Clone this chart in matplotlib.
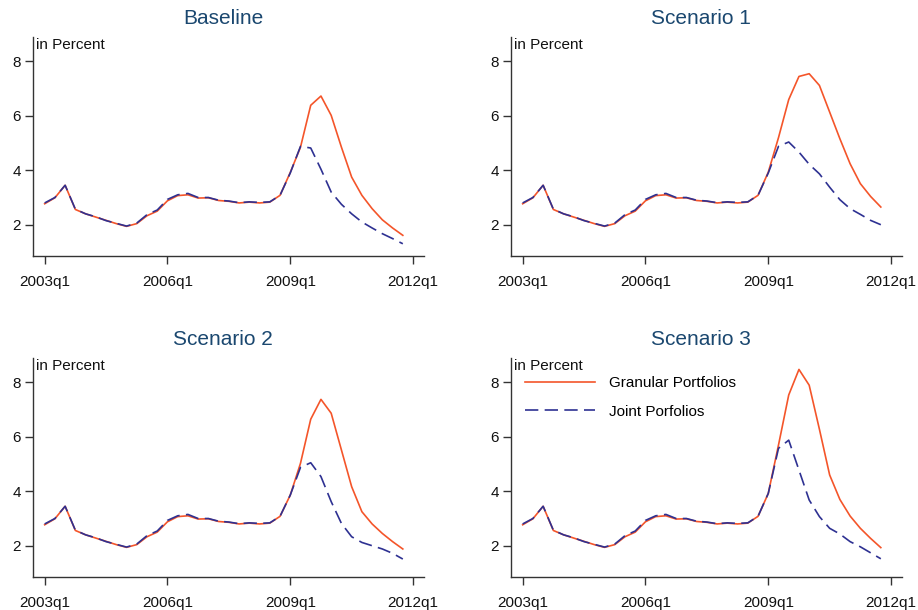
import matplotlib
matplotlib.use("Agg")
import matplotlib.pyplot as plt

plt.rcParams["font.family"] = ["Liberation Sans", "DejaVu Sans"]

# quarterly observations, 2003q1 .. 2011q4
years = list(range(2003, 2012))
quarters = [f"{y}q{q}" for y in years for q in range(1, 5)]
tick_labels = ["2003q1", "2006q1", "2009q1", "2012q1"]
tick_pos = [0, 12, 24, 36]

# shared history (2003q1 .. 2008q4)
hist_granular = [2.77, 2.99, 3.45, 2.56, 2.40, 2.28, 2.16, 2.04, 1.94, 2.04, 2.33, 2.50,
                 2.88, 3.07, 3.10, 2.98, 2.99, 2.89, 2.86, 2.80, 2.83, 2.80, 2.83, 3.08]
hist_joint = [2.80, 3.00, 3.45, 2.57, 2.40, 2.29, 2.15, 2.05, 1.95, 2.06, 2.37, 2.54,
              2.93, 3.10, 3.15, 3.00, 3.00, 2.90, 2.87, 2.81, 2.84, 2.82, 2.84, 3.08]

# 2009q1 .. 2011q4 per scenario
baseline_granular = [3.92, 4.85, 6.39, 6.73, 6.02, 4.85, 3.75, 3.08, 2.59, 2.18, 1.88, 1.61]
baseline_joint = [3.90, 4.88, 4.82, 4.04, 3.20, 2.75, 2.40, 2.10, 1.88, 1.67, 1.49, 1.30]

scen1_granular = [3.93, 5.20, 6.60, 7.45, 7.55, 7.12, 6.14, 5.16, 4.24, 3.51, 3.04, 2.65]
scen1_joint = [3.90, 4.88, 5.04, 4.67, 4.22, 3.87, 3.38, 2.92, 2.59, 2.38, 2.16, 2.00]

scen2_granular = [3.86, 5.03, 6.65, 7.38, 6.87, 5.52, 4.17, 3.25, 2.80, 2.45, 2.15, 1.88]
scen2_joint = [3.86, 4.88, 5.05, 4.54, 3.62, 2.82, 2.33, 2.12, 2.00, 1.88, 1.72, 1.51]

scen3_granular = [3.92, 5.70, 7.54, 8.48, 7.90, 6.28, 4.60, 3.70, 3.09, 2.64, 2.27, 1.93]
scen3_joint = [3.92, 5.58, 5.88, 4.78, 3.68, 3.07, 2.64, 2.43, 2.15, 1.96, 1.74, 1.52]

panels = [
    ("Baseline", baseline_granular, baseline_joint),
    ("Scenario 1", scen1_granular, scen1_joint),
    ("Scenario 2", scen2_granular, scen2_joint),
    ("Scenario 3", scen3_granular, scen3_joint),
]

red = "#f4552a"
blue = "#2e3192"
title_col = "#1a476f"

fig = plt.figure(figsize=(9.18, 6.10), dpi=100)
W, H = 918, 610
# axes boxes in pixels: left, top, right, bottom
boxes = [(33, 37, 424, 256), (511, 37, 902, 256),
         (33, 358, 424, 577), (511, 358, 902, 577)]
title_x = [223, 701, 223, 701]
title_y = [18, 18, 340, 340]

x = list(range(len(quarters)))
for k, (name, gran_tail, joint_tail) in enumerate(panels):
    l, t, r, b = boxes[k]
    ax = fig.add_axes([l / W, 1 - b / H, (r - l) / W, (b - t) / H])
    gran = hist_granular + gran_tail
    joint = hist_joint + joint_tail
    ax.plot(x, gran, color=red, lw=1.2, label="Granular Portfolios")
    ax.plot(x, joint, color=blue, lw=1.2, linestyle=(0, (8, 3.8)),
            label="Joint Porfolios")
    ax.set_xlim(-1.14, 37.07)
    ax.set_ylim(0.85, 8.9)
    ax.set_yticks([2, 4, 6, 8])
    ax.set_xticks(tick_pos)
    ax.set_xticklabels(tick_labels)
    for s in ["top", "right"]:
        ax.spines[s].set_visible(False)
    for s in ["left", "bottom"]:
        ax.spines[s].set_color("#333333")
        ax.spines[s].set_linewidth(1.0)
    ax.tick_params(axis="both", labelsize=11, length=5.5, width=1.0,
                   color="#333333", labelcolor="#111111")
    ax.tick_params(axis="x", pad=8)
    ax.tick_params(axis="y", pad=3)
    ax.text(0.008, 0.962, "in Percent", transform=ax.transAxes,
            ha="left", va="center", fontsize=11, color="#111111")
    fig.text(title_x[k] / W, 1 - title_y[k] / H, name, ha="center", va="center",
             fontsize=15, color=title_col)
    if k == 3:
        ax.legend(loc="upper left", bbox_to_anchor=(0.0, 0.98), frameon=False,
                  fontsize=11, handlelength=4.6, handletextpad=0.9,
                  labelspacing=0.95)

fig.savefig("out.png", dpi=100)
